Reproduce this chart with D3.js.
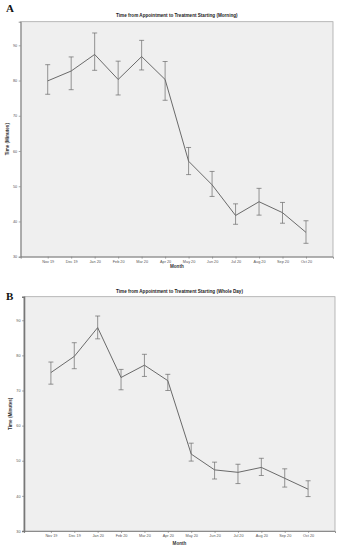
<!DOCTYPE html>
<html>
<head>
<meta charset="utf-8">
<script src="https://cdn.jsdelivr.net/npm/d3@7"></script>
<style>
  html, body { margin: 0; padding: 0; background: #fff; }
  svg { display: block; }
</style>
</head>
<body>
<svg id="chart" width="343" height="550"></svg>
<script>
const months = ["Nov 19","Dec 19","Jan 20","Feb 20","Mar 20","Apr 20","May 20","Jun 20","Jul 20","Aug 20","Sep 20","Oct 20"];
const yTicks = [30, 40, 50, 60, 70, 80, 90];

const morningMean = [79.9, 82.7, 87.4, 80.3, 86.8, 80.3, 57.1, 50.4, 41.7, 45.6, 42.5, 36.9];
const morningHigh = [84.5, 86.7, 93.5, 85.5, 91.4, 85.4, 61.0, 54.2, 45.0, 49.4, 45.4, 40.2];
const morningLow  = [76.1, 77.4, 82.9, 75.9, 83.0, 74.4, 53.3, 47.1, 39.2, 41.8, 39.5, 33.8];

const wholeMean = [75.1, 79.7, 87.9, 73.7, 77.2, 72.8, 51.9, 47.4, 46.7, 48.1, 45.0, 41.9];
const wholeHigh = [78.1, 83.6, 91.2, 76.0, 80.3, 74.6, 55.0, 49.6, 49.0, 50.7, 47.7, 44.3];
const wholeLow  = [71.8, 76.2, 84.7, 70.2, 74.0, 70.0, 49.9, 44.8, 43.5, 45.8, 42.5, 39.8];

const svg = d3.select("#chart");

function panel(opt) {
  const g = svg.append("g");
  const {left, top, right, bottom} = opt;
  const x = d3.scalePoint().domain(months).range([left, right]).padding(1.15);
  const y = d3.scaleLinear().domain([30, 96.7]).range([bottom, top]);

  // panel letter
  g.append("text").attr("x", 6).attr("y", opt.letterY)
    .attr("font-family", "Liberation Serif, serif").attr("font-weight", "bold")
    .attr("font-size", 11).attr("fill", "#111").text(opt.letter);

  // title
  g.append("text").attr("x", (left + right) / 2).attr("y", opt.titleY)
    .attr("text-anchor", "middle").attr("font-family", "Liberation Sans, Arial, sans-serif")
    .attr("font-weight", "bold").attr("font-size", 4.6).attr("fill", "#222").text(opt.title);

  // plot background
  g.append("rect").attr("x", left).attr("y", top)
    .attr("width", right - left).attr("height", bottom - top)
    .attr("fill", "#efefef").attr("stroke", "#a8a8a8").attr("stroke-width", 0.8);

  // axes
  const yAxis = d3.axisLeft(y).tickValues(yTicks).tickSize(2).tickPadding(1.5);
  const ya = g.append("g").attr("transform", `translate(${left},0)`).call(yAxis);
  ya.select(".domain").attr("stroke", "#777").attr("stroke-width", opt.axisW);
  ya.selectAll(".tick line").attr("stroke", "#777").attr("stroke-width", 0.6);
  ya.selectAll(".tick text").attr("font-size", 3.8).attr("fill", "#555")
    .attr("font-family", "Liberation Sans, Arial, sans-serif");

  const xAxis = d3.axisBottom(x).tickSize(2).tickPadding(1.5);
  const xa = g.append("g").attr("transform", `translate(0,${bottom})`).call(xAxis);
  xa.select(".domain").attr("stroke", "#777").attr("stroke-width", 0.8);
  xa.selectAll(".tick line").attr("stroke", "#777").attr("stroke-width", 0.6);
  xa.selectAll(".tick text").attr("font-size", 3.8).attr("fill", "#555")
    .attr("font-family", "Liberation Sans, Arial, sans-serif");

  // axis titles
  g.append("text").attr("x", (left + right) / 2).attr("y", bottom + opt.monthOff)
    .attr("text-anchor", "middle").attr("font-family", "Liberation Sans, Arial, sans-serif")
    .attr("font-weight", "bold").attr("font-size", 4.6).attr("fill", "#333").text("Month");
  g.append("text")
    .attr("transform", `translate(${opt.yTitleX},${(top + bottom) / 2}) rotate(-90)`)
    .attr("text-anchor", "middle").attr("font-family", "Liberation Sans, Arial, sans-serif")
    .attr("font-weight", "bold").attr("font-size", 4.6).attr("fill", "#333").text("Time (Minutes)");

  // line
  const line = d3.line().x((d, i) => x(months[i])).y(d => y(d));
  g.append("path").datum(opt.mean).attr("d", line)
    .attr("fill", "none").attr("stroke", "#5a5a5a").attr("stroke-width", 0.9);

  // error bars
  const eb = g.append("g").attr("stroke", "#6a6a6a").attr("stroke-width", 0.7);
  months.forEach((m, i) => {
    const cx = x(m);
    eb.append("line").attr("x1", cx).attr("x2", cx).attr("y1", y(opt.low[i])).attr("y2", y(opt.high[i]));
    eb.append("line").attr("x1", cx - 2.5).attr("x2", cx + 2.5).attr("y1", y(opt.low[i])).attr("y2", y(opt.low[i]));
    eb.append("line").attr("x1", cx - 2.5).attr("x2", cx + 2.5).attr("y1", y(opt.high[i])).attr("y2", y(opt.high[i]));
  });
}

panel({
  letter: "A", letterY: 12, title: "Time from Appointment to Treatment Starting (Morning)", titleY: 17,
  left: 20.7, top: 21.7, right: 333, bottom: 256.7, axisW: 0.8, monthOff: 11.5, yTitleX: 9,
  mean: morningMean, high: morningHigh, low: morningLow
});
panel({
  letter: "B", letterY: 300, title: "Time from Appointment to Treatment Starting (Whole Day)", titleY: 292.5,
  left: 24, top: 296.7, right: 335, bottom: 531, axisW: 1.6, monthOff: 13.5, yTitleX: 12,
  mean: wholeMean, high: wholeHigh, low: wholeLow
});
</script>
</body>
</html>
